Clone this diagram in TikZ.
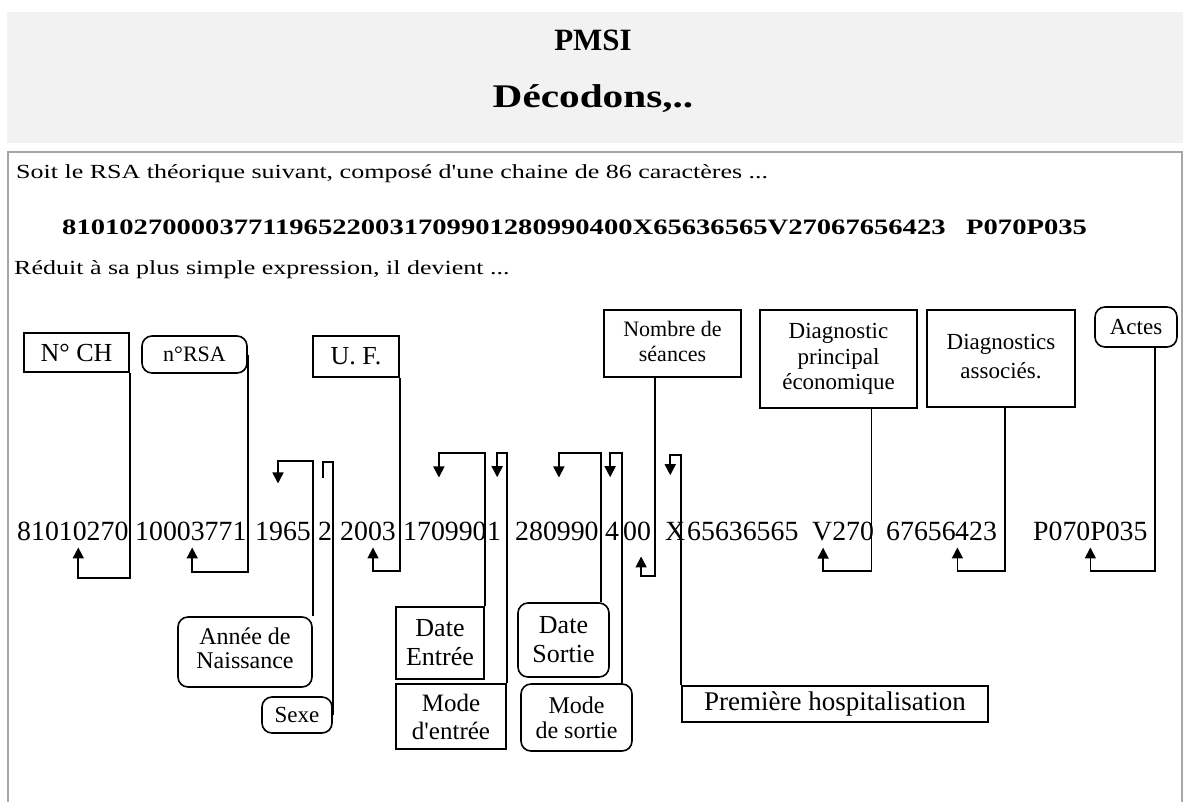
\documentclass[tikz,border=0pt]{standalone}
\usepackage{fontspec}
\setmainfont{Liberation Serif}
\newfontfamily\widefont{Liberation Serif}[FakeStretch=1.3]
\newfontfamily\hdrwide{Liberation Serif}[FakeStretch=1.25]
\usetikzlibrary{arrows.meta,calc}
\tikzset{
  box/.style={draw, line width=1.6pt, inner sep=0pt, align=center, font=\fontsize{24}{26}\selectfont},
  rbox/.style={box, rounded corners=10pt},
  conn/.style={draw, line width=1.7pt},
  arr/.style={conn, -{Triangle[length=11pt,width=11pt]}},
  digit/.style={anchor=base west, inner sep=0pt, font=\fontsize{27.8}{30}\selectfont},
  bodytext/.style={anchor=base west, inner sep=0pt, font=\widefont\fontsize{20}{24}\selectfont}
}
\begin{document}
\begin{tikzpicture}[x=1pt,y=-1pt]
\useasboundingbox (0,0) rectangle (1183,801);
% header
\fill[black!5] (7,12) rectangle (1183,143);
\node[anchor=base, inner sep=0pt, font=\bfseries\fontsize{31}{34}\selectfont] (t1) at (593,50) {PMSI};
\node[anchor=base, inner sep=0pt, font=\hdrwide\bfseries\fontsize{33}{35}\selectfont] (t2) at (593,107) {Décodons,..};
% main frame
\draw[gray!70, line width=2pt] (8,152) rectangle (1182,830);
\node[bodytext] (intro) at (16,178) {Soit le RSA théorique suivant, composé d'une chaine de 86 caractères ...};
\node[bodytext, font=\widefont\bfseries\fontsize{22}{24}\selectfont] (rsa) at (62,234) {8101027000037711965220031709901280990400X65636565V27067656423};
\node[bodytext, font=\widefont\bfseries\fontsize{22}{24}\selectfont] (rsb) at (966,234) {P070P035};
\node[bodytext] (reduit) at (14,274) {Réduit à sa plus simple expression, il devient ...};
% digit groups
\node[digit] (g1) at (17,540) {81010270};
\node[digit] (g2) at (135,540) {10003771};
\node[digit] (g3) at (255,540) {1965};
\node[digit] (g4) at (318,540) {2};
\node[digit] (g5) at (340,540) {2003};
\node[digit] (g6) at (403,540) {170990};
\node[digit] (g7) at (487,540) {1};
\node[digit] (g8) at (515,540) {280990};
\node[digit] (g9) at (605,540) {4};
\node[digit] (g10) at (623,540) {00};
\node[digit] (g11) at (665,540) {X};
\node[digit] (g12) at (687,540) {65636565};
\node[digit] (g13) at (812,540) {V270};
\node[digit] (g14) at (886,540) {67656};
\node[digit] (g15) at (955,540) {423};
\node[digit] (g16) at (1033,540) {P070P035};
% top boxes
\node[box, minimum width=105pt, minimum height=39pt, font=\fontsize{26}{28}\selectfont] (nch) at (76.5,352.5) {N° CH};
\node[rbox, minimum width=105pt, minimum height=37pt, font=\fontsize{22}{24}\selectfont] (nrsa) at (194.5,354.5) {n°RSA};
\node[box, minimum width=86pt, minimum height=41pt, font=\fontsize{26}{28}\selectfont] (uf) at (356,356.5) {U. F.};
\node[box, minimum width=137pt, minimum height=67pt, font=\fontsize{22}{25}\selectfont] (nbs) at (672.5,343.5) {\raisebox{6pt}{\begin{tabular}{@{}c@{}}Nombre de\\séances\end{tabular}}};
\node[box, minimum width=157pt, minimum height=98pt, font=\fontsize{23}{25.5}\selectfont] (dpe) at (838.5,359) {Diagnostic\\principal\\économique};
\node[box, minimum width=148pt, minimum height=97pt, font=\fontsize{23}{29}\selectfont] (das) at (1001,358.5) {\raisebox{18pt}{\begin{tabular}{@{}c@{}}Diagnostics\\associés.\end{tabular}}};
\node[rbox, minimum width=82pt, minimum height=40pt, font=\fontsize{23}{25}\selectfont] (actes) at (1136,327) {Actes};
% bottom boxes
\node[rbox, minimum width=134pt, minimum height=70pt, font=\fontsize{24}{24}\selectfont] (annee) at (245,652) {\raisebox{5pt}{\begin{tabular}{@{}c@{}}Année de\\Naissance\end{tabular}}};
\node[rbox, minimum width=70pt, minimum height=36pt, font=\fontsize{23}{25}\selectfont] (sexe) at (297,715) {Sexe};
\node[box, minimum width=88pt, minimum height=72pt, font=\fontsize{26}{29}\selectfont] (dent) at (440,643) {Date\\Entrée};
\node[box, minimum width=110pt, minimum height=65pt, font=\fontsize{25}{28}\selectfont] (ment) at (451,716.5) {Mode\\d\textquotesingle entrée};
\node[rbox, minimum width=91pt, minimum height=74pt, font=\fontsize{26}{29}\selectfont] (dsor) at (563.5,640) {Date\\Sortie};
\node[rbox, minimum width=111pt, minimum height=67pt, font=\fontsize{24}{25}\selectfont] (msor) at (576.5,717.5) {Mode\\de sortie};
\node[box, minimum width=306pt, minimum height=36pt, font=\fontsize{27}{29}\selectfont] (ph) at (835,704) {Première hospitalisation};
% connectors from top boxes (arrows up into digits)
\draw[arr] (nch.south east) -- ++(0,205) -| ([xshift=5.5pt,yshift=-7pt]g1.south);
\draw[arr] (nrsa.east) -- ++(0,217.5) -| ([xshift=1.4pt,yshift=-7pt]g2.south);
\draw[arr] (uf.south east) -- ++(0,193) -| ([xshift=5pt,yshift=-7pt]g5.south);
\draw[arr] ([xshift=-17.5pt]nbs.south) -- ++(0,198) -| ([xshift=4pt,yshift=-16pt]g10.south);
\draw[arr] ([xshift=33pt]dpe.south) -- ++(0,162) -| ([xshift=-20pt,yshift=-7pt]g13.south);
\draw[arr] ([xshift=4pt]das.south) -- ++(0,163) -| ([xshift=1.5pt,yshift=-7pt]g14.south east);
\draw[arr] ([xshift=19pt]actes.south) -- ++(0,223) -| ([yshift=-7pt]g16.south);
% connectors from bottom boxes (arrows down into digits)
\draw[arr] (annee.north east) -- ++(0,-155) -| ([xshift=-5pt,yshift=57pt]g3.south);
\draw[conn] (sexe.east) -- ++(0,-253) -| ([xshift=-2pt,yshift=62pt]g4.south);
\draw[arr] (dent.north east) -- ++(0,-153) -| ([xshift=-6pt,yshift=63pt]g6.south);
\draw[arr] (ment.north east) -- ++(0,-230) -| ([xshift=3pt,yshift=63pt]g7.south);
\draw[arr] ([xshift=-9pt]dsor.north east) -- ++(0,-149) -| ([xshift=2pt,yshift=63pt]g8.south);
\draw[arr] ([xshift=-11pt]msor.north east) -- ++(0,-230) -| ([xshift=-2pt,yshift=63pt]g9.south);
\draw[arr] (ph.north west) -- ++(0,-230) -| ([xshift=-5pt,yshift=65pt]g11.south);
\end{tikzpicture}
\end{document}
